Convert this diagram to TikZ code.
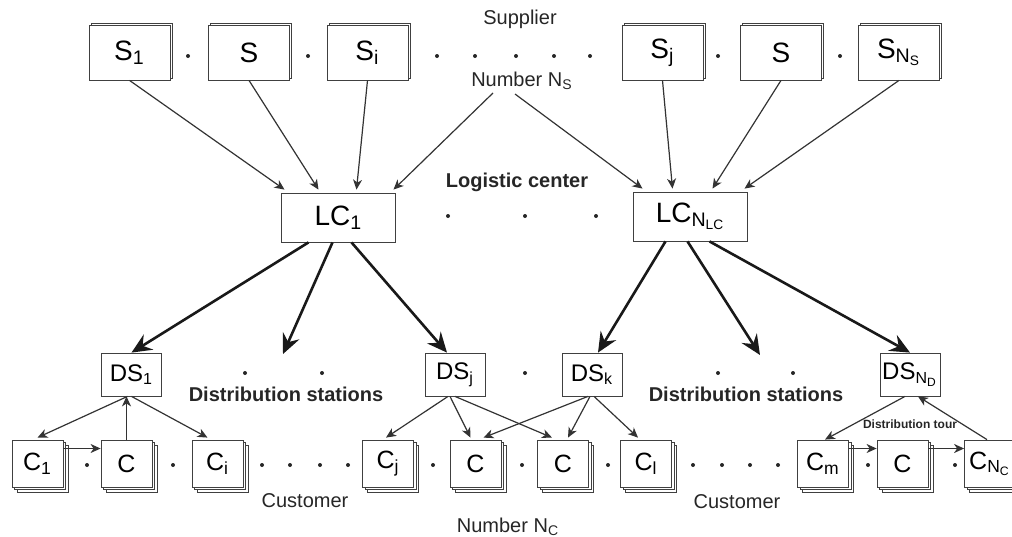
\documentclass[tikz,border=0pt]{standalone}
\usepackage{fontspec}
\setmainfont{Liberation Sans}
\usetikzlibrary{arrows.meta,calc,shadows}

\begin{document}
\begin{tikzpicture}[x=0.5pt,y=-0.5pt,
        supbox/.style={draw=black!75, fill=white, inner sep=0pt, minimum width=40.5pt, minimum height=27.5pt,
            copy shadow={shadow xshift=1pt, shadow yshift=1pt}, font=\fontsize{14}{14}\selectfont},
        lcbox/.style={draw=black!75, fill=white, inner sep=0pt, minimum width=57pt, minimum height=24.5pt,
            font=\fontsize{14}{14}\selectfont},
        dsbox/.style={draw=black!75, fill=white, inner sep=0pt, minimum width=30pt, minimum height=21.5pt,
            font=\fontsize{12}{12}\selectfont},
        custbox/.style={draw=black!75, fill=white, inner sep=0pt, minimum width=25.5pt, minimum height=23.5pt,
            double copy shadow={shadow xshift=1.3pt, shadow yshift=-1.3pt}, font=\fontsize{12.5}{12.5}\selectfont},
        lbl/.style={font=\fontsize{10}{10}\selectfont, text=black!85},
        arr/.style={draw=black!80, line width=0.6pt, -{Stealth[length=5pt,width=4.5pt,inset=1.5pt]}},
        bigarr/.style={draw=black!90, line width=1.3pt, -{Stealth[length=10pt,width=9pt,inset=3.5pt]}}]
        \useasboundingbox (0,0) rectangle (1012,536);

        \node[supbox] (s1) at (129.5,52.5) {S\textsubscript{1}};
        \node[supbox] (s2) at (249,52.5) {S};
        \node[supbox] (si) at (367.5,52.5) {S\textsubscript{i}};
        \node[supbox] (sj) at (662.5,52.5) {S\textsubscript{j}};
        \node[supbox] (s5) at (781,52.5) {S};
        \node[supbox] (sns) at (899,52.5) {S\textsubscript{N\textsubscript{S}}};

        \node[lbl] (supplier) at (520,19) {Supplier};
        \node[lbl] (numns) at (522,81) {Number N\textsubscript{S}};
        \coordinate (ns1) at (493,93);
        \coordinate (ns2) at (515,94);

        \node[lcbox] (lc1) at (338.5,217.5) {LC\textsubscript{1}};
        \node[lcbox] (lcn) at (690.5,216.5) {LC\textsubscript{N\textsubscript{LC}}};
        \node[lbl, font=\fontsize{10}{10}\bfseries] (logc) at (517,182) {Logistic center};

        \node[dsbox] (ds1) at (131.5,374.5) {DS\textsubscript{1}};
        \node[dsbox] (dsj) at (455,374.5) {DS\textsubscript{j}};
        \node[dsbox] (dsk) at (592,374.5) {DS\textsubscript{k}};
        \node[dsbox] (dsnd) at (910,374.5) {DS\textsubscript{N\textsubscript{D}}};
        \node[lbl, font=\fontsize{10}{10}\bfseries] (dstat1) at (286,394) {Distribution stations};
        \node[lbl, font=\fontsize{10}{10}\bfseries] (dstat2) at (746,394) {Distribution stations};
        \coordinate (dsdots1) at (283,354);
        \coordinate (dsdots2) at (760,355);

        \node[custbox] (c1) at (37.5,463.5) {C\textsubscript{1}};
        \node[custbox] (c2) at (126.5,463.5) {C};
        \node[custbox] (ci) at (217.5,463.5) {C\textsubscript{i}};
        \node[custbox] (cj) at (388,463.5) {C\textsubscript{j}};
        \node[custbox] (c3) at (475.5,463.5) {C};
        \node[custbox] (c4) at (563,463.5) {C};
        \node[custbox] (cl) at (646,463.5) {C\textsubscript{l}};
        \node[custbox] (cm) at (823,463.5) {C\textsubscript{m}};
        \node[custbox] (c5) at (902.5,463.5) {C};
        \node[custbox] (cnc) at (990,463.5) {C\textsubscript{N\textsubscript{C}}};

        \node[lbl] (cust1) at (305,501) {Customer};
        \node[lbl] (cust2) at (737,502) {Customer};
        \node[lbl] (numnc) at (508,527) {Number N\textsubscript{C}};
        \node[lbl, font=\fontsize{6}{6}\bfseries] (dtour) at (910,424) {Distribution tour};

        \foreach \x in {188,308,437,475,516,554,590,718,840}
            \fill[black!85] (\x,56) circle (1pt);
        \foreach \x in {448,525,596}
            \fill[black!85] (\x,216) circle (1pt);
        \foreach \x in {245,322,525,718,793}
            \fill[black!85] (\x,373) circle (1pt);
        \foreach \x in {87,173,262,290,320,348,433,522,608,693,722,750,778,868,955}
            \fill[black!85] (\x,465) circle (1pt);

        \draw[arr] (s1.south) -- ($(lc1.north)+(-54,-3)$);
        \draw[arr] (s2.south) -- ($(lc1.north)+(-20,-3)$);
        \draw[arr] (si.south) -- ($(lc1.north)+(18,-3)$);
        \draw[arr] (ns1) -- ($(lc1.north)+(55,-3)$);
        \draw[arr] (ns2) -- ($(lcn.north)+(-48,-3)$);
        \draw[arr] (sj.south) -- ($(lcn.north)+(-18,-3)$);
        \draw[arr] (s5.south) -- ($(lcn.north)+(22,-3)$);
        \draw[arr] (sns.south) -- ($(lcn.north)+(54,-3)$);

        \draw[bigarr] ($(lc1.south)+(-30,0)$) -- (ds1.north);
        \draw[bigarr] ($(lc1.south)+(-6,0)$) -- (dsdots1);
        \draw[bigarr] ($(lc1.south)+(13,0)$) -- ($(dsj.north)+(-8,0)$);
        \draw[bigarr] ($(lcn.south)+(-25,0)$) -- ($(dsk.north)+(6,0)$);
        \draw[bigarr] ($(lcn.south)+(-3,0)$) -- (dsdots2);
        \draw[bigarr] ($(lcn.south)+(19,0)$) -- (dsnd.north);

        \draw[arr] ($(ds1.south)+(-4,0)$) -- ($(c1.north)+(0,-2)$);
        \draw[arr] (c2.north) -- (c2.north |- ds1.south);
        \draw[arr] ($(ds1.south)+(0,0)$) -- ($(ci.north)+(-10,-2)$);
        \draw[arr] ([yshift=7.5pt]c1.east) -- ([yshift=7.5pt]c2.west);

        \draw[arr] ($(dsj.south)+(-7,0)$) -- ($(cj.north)+(-2,-2)$);
        \draw[arr] ($(dsj.south)+(-5,0)$) -- ($(c3.north)+(-5,-2)$);
        \draw[arr] ($(dsj.south)+(0,0)$) -- ($(c4.north)+(-11,-2)$);
        \draw[arr] ($(dsk.south)+(-4,0)$) -- ($(c3.north)+(8,-2)$);
        \draw[arr] ($(dsk.south)+(-2,0)$) -- ($(c4.north)+(5,-2)$);
        \draw[arr] ($(dsk.south)+(2,0)$) -- ($(cl.north)+(-8,-2)$);

        \draw[arr] ($(dsnd.south)+(-5,0)$) -- ($(cm.north)+(2,0)$);
        \draw[arr] ($(cnc.north)+(-3,0)$) -- ($(dsnd.south)+(8,0)$);
        \draw[arr] ([yshift=7.5pt]cm.east) -- ([yshift=7.5pt]c5.west);
        \draw[arr] ([yshift=7.5pt]c5.east) -- ([yshift=7.5pt]cnc.west);
    \end{tikzpicture}
\end{document}
